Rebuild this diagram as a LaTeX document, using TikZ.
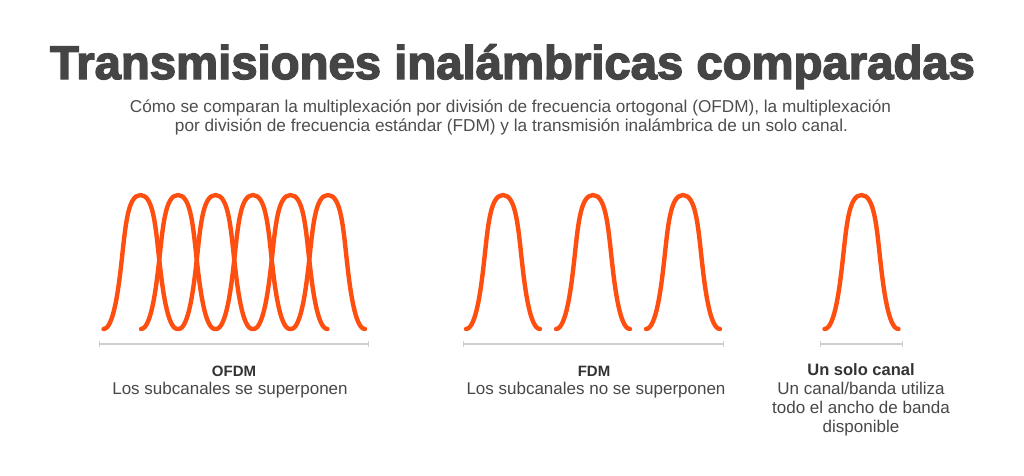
\documentclass[tikz,border=0pt]{standalone}
\usepackage{fontspec}
\setmainfont{Liberation Sans}
\newfontfamily\titlefont[BoldFeatures={FakeBold=3}]{Liberation Sans}
\usetikzlibrary{arrows.meta}
\definecolor{waveorange}{HTML}{FF4F10}
\definecolor{axisgray}{HTML}{CFCFCF}
\definecolor{titlegray}{HTML}{454545}
\definecolor{subgray}{HTML}{4E4E4E}
\definecolor{labeldark}{HTML}{333333}
\definecolor{labelgray}{HTML}{484848}
\tikzset{
  wavestyle/.style={draw=waveorange, line width=4.4pt, line cap=round, line join=round},
  axisline/.style={draw=axisgray, line width=1.3pt, {Bar[width=6pt]}-{Bar[width=6pt]}},
  headlbl/.style={anchor=base, text=labeldark, font=\bfseries\fontsize{15}{18}\selectfont, inner sep=0pt},
  desclbl/.style={anchor=base, text=labelgray, font=\fontsize{17}{19}\selectfont, inner sep=0pt},
  bell/.pic={\draw[wavestyle] (-37,0) .. controls (-27,0) and (-22,-40) .. (-19,-67) .. controls (-15.1,-102) and (-13,-134) .. (0,-134) .. controls (13,-134) and (15.1,-102) .. (19,-67) .. controls (22,-40) and (27,0) .. (37,0);}
}
\begin{document}
\begin{tikzpicture}[x=1pt,y=-1pt]
\useasboundingbox[fill=white] (0,0) rectangle (1024,475);
% title
\node[anchor=base, inner sep=0pt, text=titlegray] (title) at (512.5,79)
  {\resizebox{925pt}{!}{\titlefont\bfseries\fontsize{46}{50}\selectfont Transmisiones inalámbricas comparadas}};
\node[anchor=base, inner sep=0pt, text=subgray] (sub1) at (510.5,112.3)
  {\resizebox{761pt}{!}{\fontsize{18}{20}\selectfont Cómo se comparan la multiplexación por división de frecuencia ortogonal (OFDM), la multiplexación}};
\node[anchor=base, inner sep=0pt, text=subgray] (sub2) at (511.5,131.7)
  {\resizebox{673pt}{!}{\fontsize{18}{20}\selectfont por división de frecuencia estándar (FDM) y la transmisión inalámbrica de un solo canal.}};
% OFDM curves
\foreach \px in {140.5,178,215.5,253,290.5,328} {
  \pic at (\px,329) {bell};
}
% FDM curves
\foreach \px in {503,593,683} {
  \pic at (\px,329) {bell};
}
% single channel
\pic at (861.5,329) {bell};
% axes
\coordinate (a1l) at (99,344); \coordinate (a1r) at (369,344);
\coordinate (a2l) at (463,344); \coordinate (a2r) at (724,344);
\coordinate (a3l) at (820,344); \coordinate (a3r) at (903,344);
\draw[axisline] (a1l) -- (a1r);
\draw[axisline] (a2l) -- (a2r);
\draw[axisline] (a3l) -- (a3r);
% labels
\node[headlbl] (ofdmh) at (234,376) {OFDM};
\node[desclbl] (ofdmd) at (230,394) {Los subcanales se superponen};
\node[headlbl] (fdmh) at (594,376) {FDM};
\node[desclbl] (fdmd) at (596,394) {Los subcanales no se superponen};
\node[headlbl, font=\bfseries\fontsize{16.5}{19}\selectfont] (singh) at (861,375) {Un solo canal};
\node[desclbl] (sing1) at (861,394) {Un canal/banda utiliza};
\node[desclbl] (sing2) at (861,413) {todo el ancho de banda};
\node[desclbl] (sing3) at (861,432) {disponible};
\end{tikzpicture}
\end{document}
